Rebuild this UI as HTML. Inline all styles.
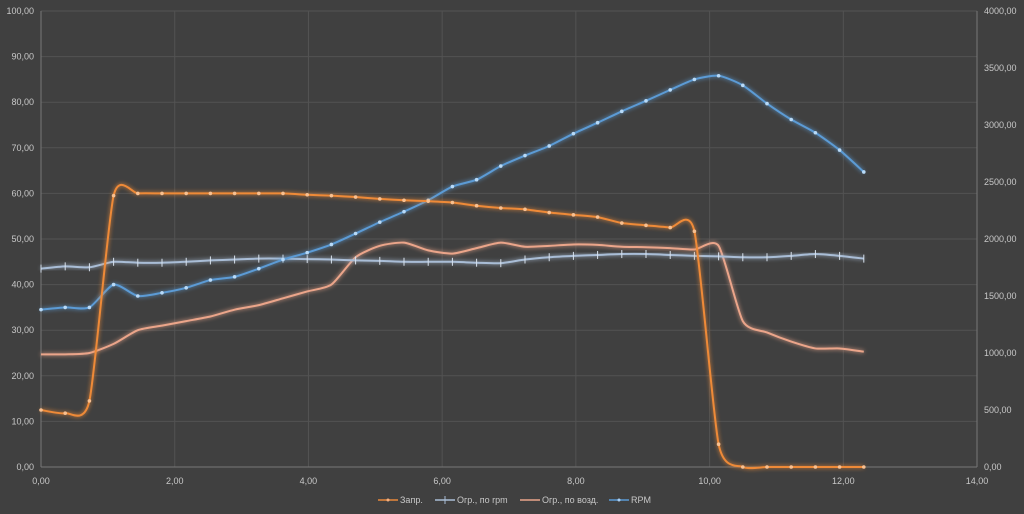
<!DOCTYPE html>
<html><head><meta charset="utf-8"><style>
body{margin:0;background:#404040;}
svg{display:block;font-family:"Liberation Sans",sans-serif;}
</style></head><body>
<svg id="s" width="1024" height="514" viewBox="0 0 1024 514">
<defs>
<filter id="g" x="-10%" y="-10%" width="120%" height="120%"><feGaussianBlur stdDeviation="2.2" result="b"/><feMerge><feMergeNode in="b"/><feMergeNode in="SourceGraphic"/></feMerge></filter>
</defs>
<rect width="1024" height="514" fill="#404040"/>
<g id="grid" stroke="#535353" stroke-width="1"></g>
<g id="lab" font-size="9" fill="#c8c8c8"></g>
<g id="ser"></g>
<g font-size="9" fill="#c8c8c8">
<line x1="378" y1="500" x2="398" y2="500" stroke="#e8873a" stroke-width="1.5"/><circle cx="388" cy="500" r="1.5" fill="#f5b080"/><text x="400" y="503">Запр.</text>
<line x1="435" y1="500" x2="455" y2="500" stroke="#a9bdd6" stroke-width="1.5"/><line x1="445" y1="496" x2="445" y2="504" stroke="#a9bdd6"/><text x="457" y="503">Огр., по rpm</text>
<line x1="520" y1="500" x2="540" y2="500" stroke="#eba58a" stroke-width="1.5"/><text x="542" y="503">Огр., по возд.</text>
<line x1="609" y1="500" x2="629" y2="500" stroke="#5b9bd5" stroke-width="1.5"/><circle cx="619" cy="500" r="1.5" fill="#a8cff5"/><text x="631" y="503">RPM</text>
</g>
</svg>
<script>
const X0=41,XS=66.86,Y0=467,YS=4.56;
const ns="http://www.w3.org/2000/svg";
function el(p,t,a,txt){const e=document.createElementNS(ns,t);for(const k in a)e.setAttribute(k,a[k]);if(txt!=null)e.textContent=txt;document.getElementById(p).appendChild(e);return e;}
for(let v=0;v<=100;v+=10){const y=Y0-v*YS;el("grid","line",{x1:X0,y1:y,x2:977,y2:y});
el("lab","text",{x:34,y:y+3,"text-anchor":"end"},v.toFixed(2).replace(".",","));}
for(let v=0;v<=4000;v+=500){const y=Y0-v/40*YS;el("lab","text",{x:984,y:y+3},v.toFixed(2).replace(".",","));}
for(let v=0;v<=14;v+=2){const x=X0+v*XS;el("grid","line",{x1:x,y1:11,x2:x,y2:Y0});
el("lab","text",{x:x,y:484,"text-anchor":"middle"},v.toFixed(2).replace(".",","));}
el("grid","line",{x1:X0,y1:11,x2:X0,y2:Y0,stroke:"#777"});
el("grid","line",{x1:977,y1:11,x2:977,y2:Y0,stroke:"#777"});
el("grid","line",{x1:X0,y1:Y0,x2:977,y2:Y0,stroke:"#777"});
const zap=[12.5,11.8,14.5,59.5,60,60,60,60,60,60,60,59.7,59.5,59.2,58.8,58.5,58.3,58,57.3,56.8,56.5,55.8,55.3,54.8,53.5,53,52.5,51.7,5,0,0,0,0,0,0];
const rpm=[34.5,35,35,40,37.5,38.2,39.3,41,41.7,43.5,45.5,47,48.8,51.2,53.7,56,58.5,61.5,63,66,68.3,70.4,73.1,75.5,78,80.3,82.7,85,85.8,83.7,79.7,76.2,73.3,69.5,64.7];
const ogr=[43.5,44,43.8,45,44.8,44.8,45,45.3,45.5,45.7,45.7,45.6,45.5,45.3,45.2,45,45,45,44.8,44.7,45.5,46,46.3,46.5,46.7,46.7,46.5,46.3,46.2,46,46,46.3,46.7,46.3,45.7];
const voz=[24.7,24.7,25,27,30,31,32,33,34.5,35.5,37,38.5,40,46,48.5,49.2,47.5,46.8,48,49.2,48.3,48.5,48.8,48.7,48.3,48.2,48,47.7,48.5,32,29.5,27.5,26,26,25.3];
function pts(a){return a.map((v,i)=>[41+24.2*i,Y0-v*YS]);}
function path(p){const k=9;let d="M"+p[0][0]+","+p[0][1];for(let i=0;i<p.length-1;i++){const a=p[Math.max(0,i-1)],b=p[i],c=p[i+1],e=p[Math.min(p.length-1,i+2)];
d+=" C"+(b[0]+(c[0]-a[0])/k)+","+(b[1]+(c[1]-a[1])/k)+" "+(c[0]-(e[0]-b[0])/k)+","+(c[1]-(e[1]-b[1])/k)+" "+c[0]+","+c[1];}return d;}
function series(a,col,mk,mode){const p=pts(a);el("ser","path",{d:path(p),fill:"none",stroke:col,"stroke-width":2,filter:"url(#g)"});
p.forEach(q=>{if(mode==="dot")el("ser","circle",{cx:q[0],cy:q[1],r:1.8,fill:mk});else if(mode==="plus")el("ser","line",{x1:q[0],y1:q[1]-4,x2:q[0],y2:q[1]+4,stroke:mk,"stroke-width":1});});}
series(voz,"#eba58a","","none");
series(ogr,"#a9bdd6","#d8e2ee","plus");
series(rpm,"#5b9bd5","#b8daf8","dot");
series(zap,"#ee8a38","#f8c090","dot");
</script>
</body></html>
